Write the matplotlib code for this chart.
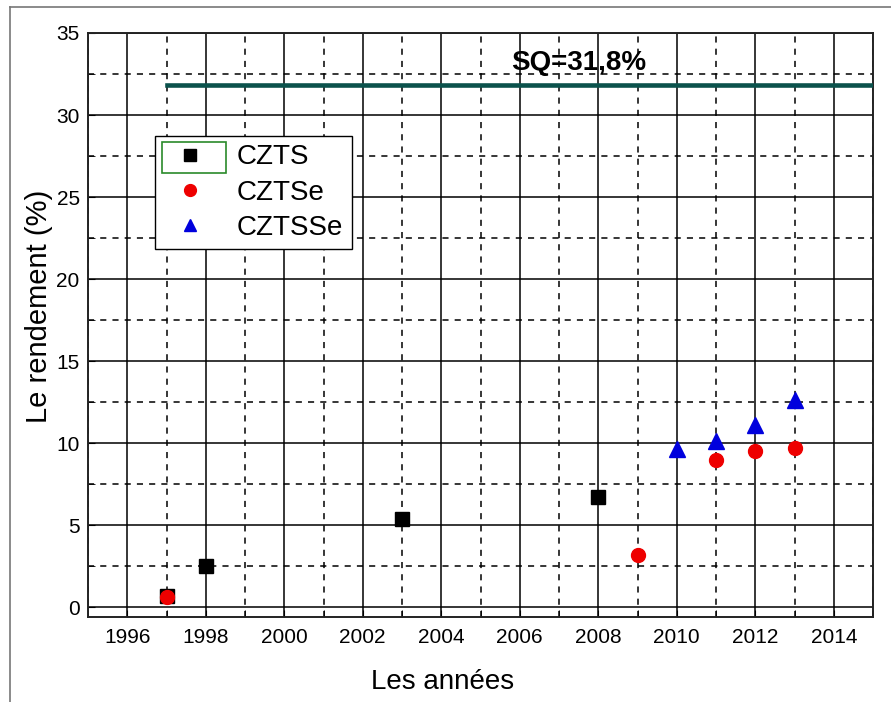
import matplotlib
matplotlib.use("Agg")
import matplotlib.pyplot as plt
from matplotlib.ticker import MultipleLocator
from matplotlib.patches import Rectangle
from matplotlib.lines import Line2D

plt.rcParams['font.family'] = ['Liberation Sans', 'DejaVu Sans']

czts_years = [1997, 1998, 2003, 2008]
czts_eff = [0.66, 2.5, 5.4, 6.7]
cztse_years = [1997, 2009, 2011, 2012, 2013]
cztse_eff = [0.6, 3.2, 9.0, 9.5, 9.7]
cztsse_years = [2010, 2011, 2012, 2013]
cztsse_eff = [9.66, 10.1, 11.1, 12.6]
sq_limit = 31.8
sq_years = [1997, 2015]
sq_label = "SQ=31,8%"

fig = plt.figure(figsize=(8.91, 7.02), dpi=100)
ax = fig.add_axes([88/891, 1-617/702, (873-88)/891, (617-33)/702])

ax.set_xlim(1995, 2015)
ax.set_ylim(-0.6, 35)
ax.xaxis.set_major_locator(MultipleLocator(2))
ax.xaxis.set_minor_locator(MultipleLocator(1))
ax.yaxis.set_major_locator(MultipleLocator(5))
ax.yaxis.set_minor_locator(MultipleLocator(2.5))
ax.grid(True, which='major', color='black', linestyle='-', linewidth=1.1)
ax.grid(True, which='minor', color='black', linestyle=(0, (4, 4)), linewidth=1.1)
ax.set_axisbelow(True)
ax.tick_params(which='both', direction='in', length=5, labelsize=15, color='black')
ax.tick_params(axis='x', pad=8)
ax.tick_params(axis='y', pad=6)
for s in ax.spines.values():
    s.set_linewidth(1.4)
    s.set_color('#222222')

ax.plot(sq_years, [sq_limit, sq_limit], color='#0b524c', linewidth=3.3, zorder=3)
ax.text(2007.5, 33.2, sq_label, fontsize=20, fontweight='bold', ha='center', va='center', zorder=4)

ax.plot(czts_years, czts_eff, linestyle='none', marker='s', markersize=9.5, color='black', label='CZTS', zorder=5)
ax.plot(cztse_years, cztse_eff, linestyle='none', marker='o', markersize=10, color='#ee0000', label='CZTSe', zorder=6)
ax.plot(cztsse_years, cztsse_eff, linestyle='none', marker='^', markersize=11, color='#0000dd', label='CZTSSe', zorder=6)

fig.text(443/891, 1-682/702, "Les années", fontsize=20, ha='center', va='center')
fig.text(39/891, 1-306/702, "Le rendement (%)", fontsize=21, ha='center', va='center', rotation=90)

leg = ax.legend(loc='upper left', bbox_to_anchor=((155-88)/785, (617-136)/584), borderaxespad=0,
                fontsize=20, frameon=True, fancybox=False, edgecolor='black', framealpha=1,
                markerscale=0.85, handlelength=1.9, handletextpad=0.75, labelspacing=0.33,
                borderpad=0.3)
leg.get_frame().set_linewidth(1.0)
leg.set_zorder(10)

fig.patches.append(Rectangle((162/891, 1-173/702), (226-162)/891, (173-142)/702,
                             transform=fig.transFigure, fill=False, edgecolor='#2a8a2a',
                             linewidth=1.2, zorder=20))
fig.lines.append(Line2D([10/891, 10/891], [0, 1-7/702], transform=fig.transFigure, color='#777777', linewidth=1.2))
fig.lines.append(Line2D([10/891, 1], [1-7/702, 1-7/702], transform=fig.transFigure, color='#777777', linewidth=1.2))

fig.savefig("out.png", dpi=100)
